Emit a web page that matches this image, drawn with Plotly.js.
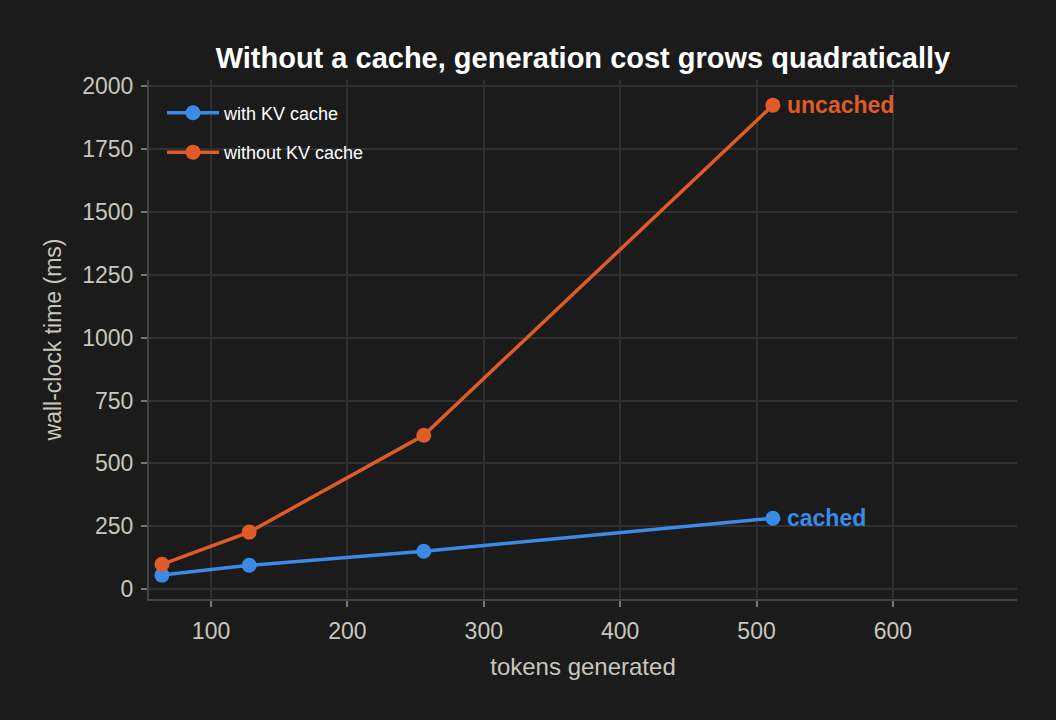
<!DOCTYPE html>
<html>
<head>
<meta charset="utf-8">
<script src="https://cdn.plot.ly/plotly-3.0.1.min.js"></script>
<style>
  html, body { margin: 0; padding: 0; background: #1b1b1b; }
  #chart { width: 1056px; height: 720px; }
</style>
</head>
<body>
<div id="chart"></div>
<script>
var tokens = [64, 128, 256, 512];
var cachedMs = [56, 95, 151, 282];
var uncachedMs = [99, 227, 612, 1924];
var xTicks = [100, 200, 300, 400, 500, 600];
var yTicks = [0, 250, 500, 750, 1000, 1250, 1500, 1750, 2000];

var BLUE = '#3b8ae8';
var ORANGE = '#df5b27';
var TICK = '#c9c7bd';
var GRID = '#303030';

var traceCached = {
    x: tokens, y: cachedMs,
    type: 'scatter', mode: 'lines+markers',
    name: 'with KV cache',
    legendgroup: 'a',
    line: { color: BLUE, width: 3.5 },
    marker: { color: BLUE, size: 15 }
};

var traceUncached = {
    x: tokens, y: uncachedMs,
    type: 'scatter', mode: 'lines+markers',
    name: 'without KV cache',
    legendgroup: 'b',
    line: { color: ORANGE, width: 3.5 },
    marker: { color: ORANGE, size: 15 }
};

var last = tokens.length - 1;

var layout = {
    width: 1056, height: 720,
    paper_bgcolor: '#1b1b1b',
    plot_bgcolor: '#1b1b1b',
    font: { family: 'Liberation Sans, Arial, sans-serif', color: TICK },
    title: {
        text: '<b>Without a cache, generation cost grows quadratically</b>',
        font: { size: 29, color: '#ffffff' },
        x: 0.552, xanchor: 'center', y: 0.92, yanchor: 'middle'
    },
    margin: { l: 149, r: 39, t: 80, b: 121 },
    xaxis: {
        range: [54.5, 691],
        tickvals: xTicks,
        tickfont: { size: 23, color: TICK },
        ticklabelstandoff: 4,
        title: { text: 'tokens generated', font: { size: 24, color: TICK }, standoff: 16 },
        showgrid: true, gridcolor: GRID, gridwidth: 1.5,
        zeroline: false,
        showline: true, linecolor: '#444444', linewidth: 2,
        ticks: 'outside', ticklen: 6, tickwidth: 2, tickcolor: '#777777'
    },
    yaxis: {
        range: [-39, 2024],
        tickvals: yTicks,
        tickfont: { size: 23, color: TICK },
        ticklabelstandoff: 3,
        title: { text: 'wall-clock time (ms)', font: { size: 23, color: TICK }, standoff: 14 },
        showgrid: true, gridcolor: GRID, gridwidth: 1.5,
        zeroline: false,
        showline: true, linecolor: '#444444', linewidth: 2,
        ticks: 'outside', ticklen: 6, tickwidth: 2, tickcolor: '#777777'
    },
    legend: {
        x: 0.015, y: 0.972, xanchor: 'left', yanchor: 'top',
        bgcolor: 'rgba(0,0,0,0)',
        font: { size: 18, color: '#ffffff' },
        itemwidth: 52,
        traceorder: 'grouped',
        tracegroupgap: 13
    },
    showlegend: true,
    annotations: [
        {
            x: tokens[last], y: uncachedMs[last],
            text: '<b>uncached</b>', showarrow: false,
            xanchor: 'left', yanchor: 'middle', xshift: 12,
            font: { size: 23, color: ORANGE }
        },
        {
            x: tokens[last], y: cachedMs[last],
            text: '<b>cached</b>', showarrow: false,
            xanchor: 'left', yanchor: 'middle', xshift: 12,
            font: { size: 23, color: BLUE }
        }
    ]
};

Plotly.newPlot('chart', [traceCached, traceUncached], layout, { displayModeBar: false, responsive: false });
</script>
</body>
</html>
